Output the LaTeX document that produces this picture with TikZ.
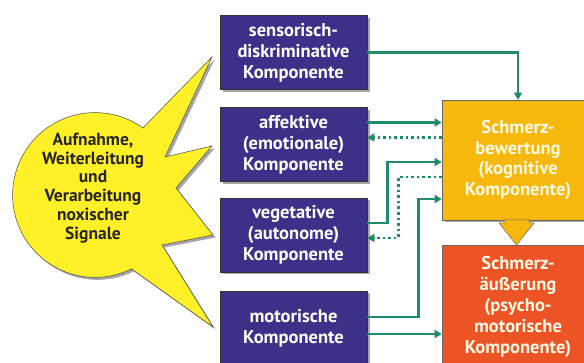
\documentclass[tikz,border=0pt]{standalone}
\usepackage{fontspec}
\setmainfont{PT Sans}
\usetikzlibrary{arrows.meta,shadows}

\definecolor{compblue}{RGB}{60,48,136}
\definecolor{bewgelb}{RGB}{246,184,12}
\definecolor{aeusrot}{RGB}{236,84,38}
\definecolor{pfeilgruen}{RGB}{30,140,104}
\definecolor{sterngelb}{RGB}{255,240,40}
\definecolor{hellschrift}{RGB}{255,250,228}

\begin{document}
\begin{tikzpicture}[x=1pt,y=-1pt,
  schatten/.style={drop shadow={shadow xshift=2.5pt,shadow yshift=-2.5pt,fill=black!35,opacity=1}},
  comp/.style={draw=black!80,line width=0.6pt,fill=compblue,text=white,schatten,
    minimum width=147pt,minimum height=74pt,align=center,inner sep=1pt,
    font=\bfseries\fontsize{18.5}{21}\selectfont},
  urteil/.style={draw=black!60,line width=0.6pt,text=hellschrift,schatten,
    minimum width=152pt,align=center,inner sep=1pt,
    font=\bfseries\fontsize{18.5}{20.8}\selectfont},
  flow/.style={draw=pfeilgruen,line width=2.8pt,-{Triangle[length=7pt,width=8pt]}},
  rueck/.style={flow,dash pattern=on 2.6pt off 3pt}]
\useasboundingbox (0,0) rectangle (584,363);
\clip (0,0) rectangle (584,363);

% Stern
\filldraw[fill=sterngelb,draw=black!70,line width=0.5pt,schatten]
  (95,195) ++(-54.4:82.4) arc[start angle=-54.4,end angle=-296.3,radius=82.4]
  -- (213,327) -- (162,245) -- (213,235) -- (176,188) -- (212,146)
  -- (165,157) -- (212,57) -- cycle;
\node[align=center,text=black!85,inner sep=1pt,font=\bfseries\fontsize{17.5}{18.7}\selectfont] (signal) at (93,188)
  {Aufnahme,\\Weiterleitung\\und\\Verarbeitung\\noxischer\\Signale};

% Komponenten
\node[comp] (sens) at (293.5,52.5) {sensorisch-\\diskriminative\\Komponente};
\node[comp] (affekt) at (293.5,144.5) {affektive\\(emotionale)\\Komponente};
\node[comp] (veget) at (293.5,235) {vegetative\\(autonome)\\Komponente};
\node[comp] (motor) at (293.5,328) {motorische\\Komponente};

\node[urteil,fill=bewgelb,minimum height=120pt] (bew) at (518,160)
  {Schmerz-\\bewertung\\(kognitive\\Komponente)};
\node[urteil,fill=aeusrot,minimum height=124pt] (aeus) at (518,307)
  {Schmerz-\\äußerung\\(psycho-\\motorische\\Komponente)};

% Blockpfeil
\filldraw[fill=bewgelb,draw=black!60,line width=0.5pt]
  (504,220) -- (529,220) -- (529,223) -- (534,223) -- (516.5,245)
  -- (499,223) -- (504,223) -- cycle;

% Verbindungen
\draw[flow] (sens.east) -| (bew.north);
\draw[flow] ([yshift=22pt]affekt.east) -- ([yshift=22pt]affekt.east -| bew.west);
\draw[rueck] ([yshift=7pt]affekt.east -| bew.west) -- ([yshift=7pt]affekt.east);
\draw[flow] ([yshift=12pt]veget.east) -- ++(20,0) |- ([yshift=-2pt]bew.west);
\draw[rueck] ([yshift=-17pt]bew.west) -| ([xshift=31pt,yshift=-3pt]veget.east) -- ([yshift=-3pt]veget.east);
\draw[flow] ([yshift=11pt]motor.east) -- ++(51,0) |- ([yshift=-39pt]bew.west);
\draw[flow] ([yshift=-6pt]motor.east) -- ([yshift=-6pt]motor.east -| aeus.west);
\end{tikzpicture}
\end{document}
